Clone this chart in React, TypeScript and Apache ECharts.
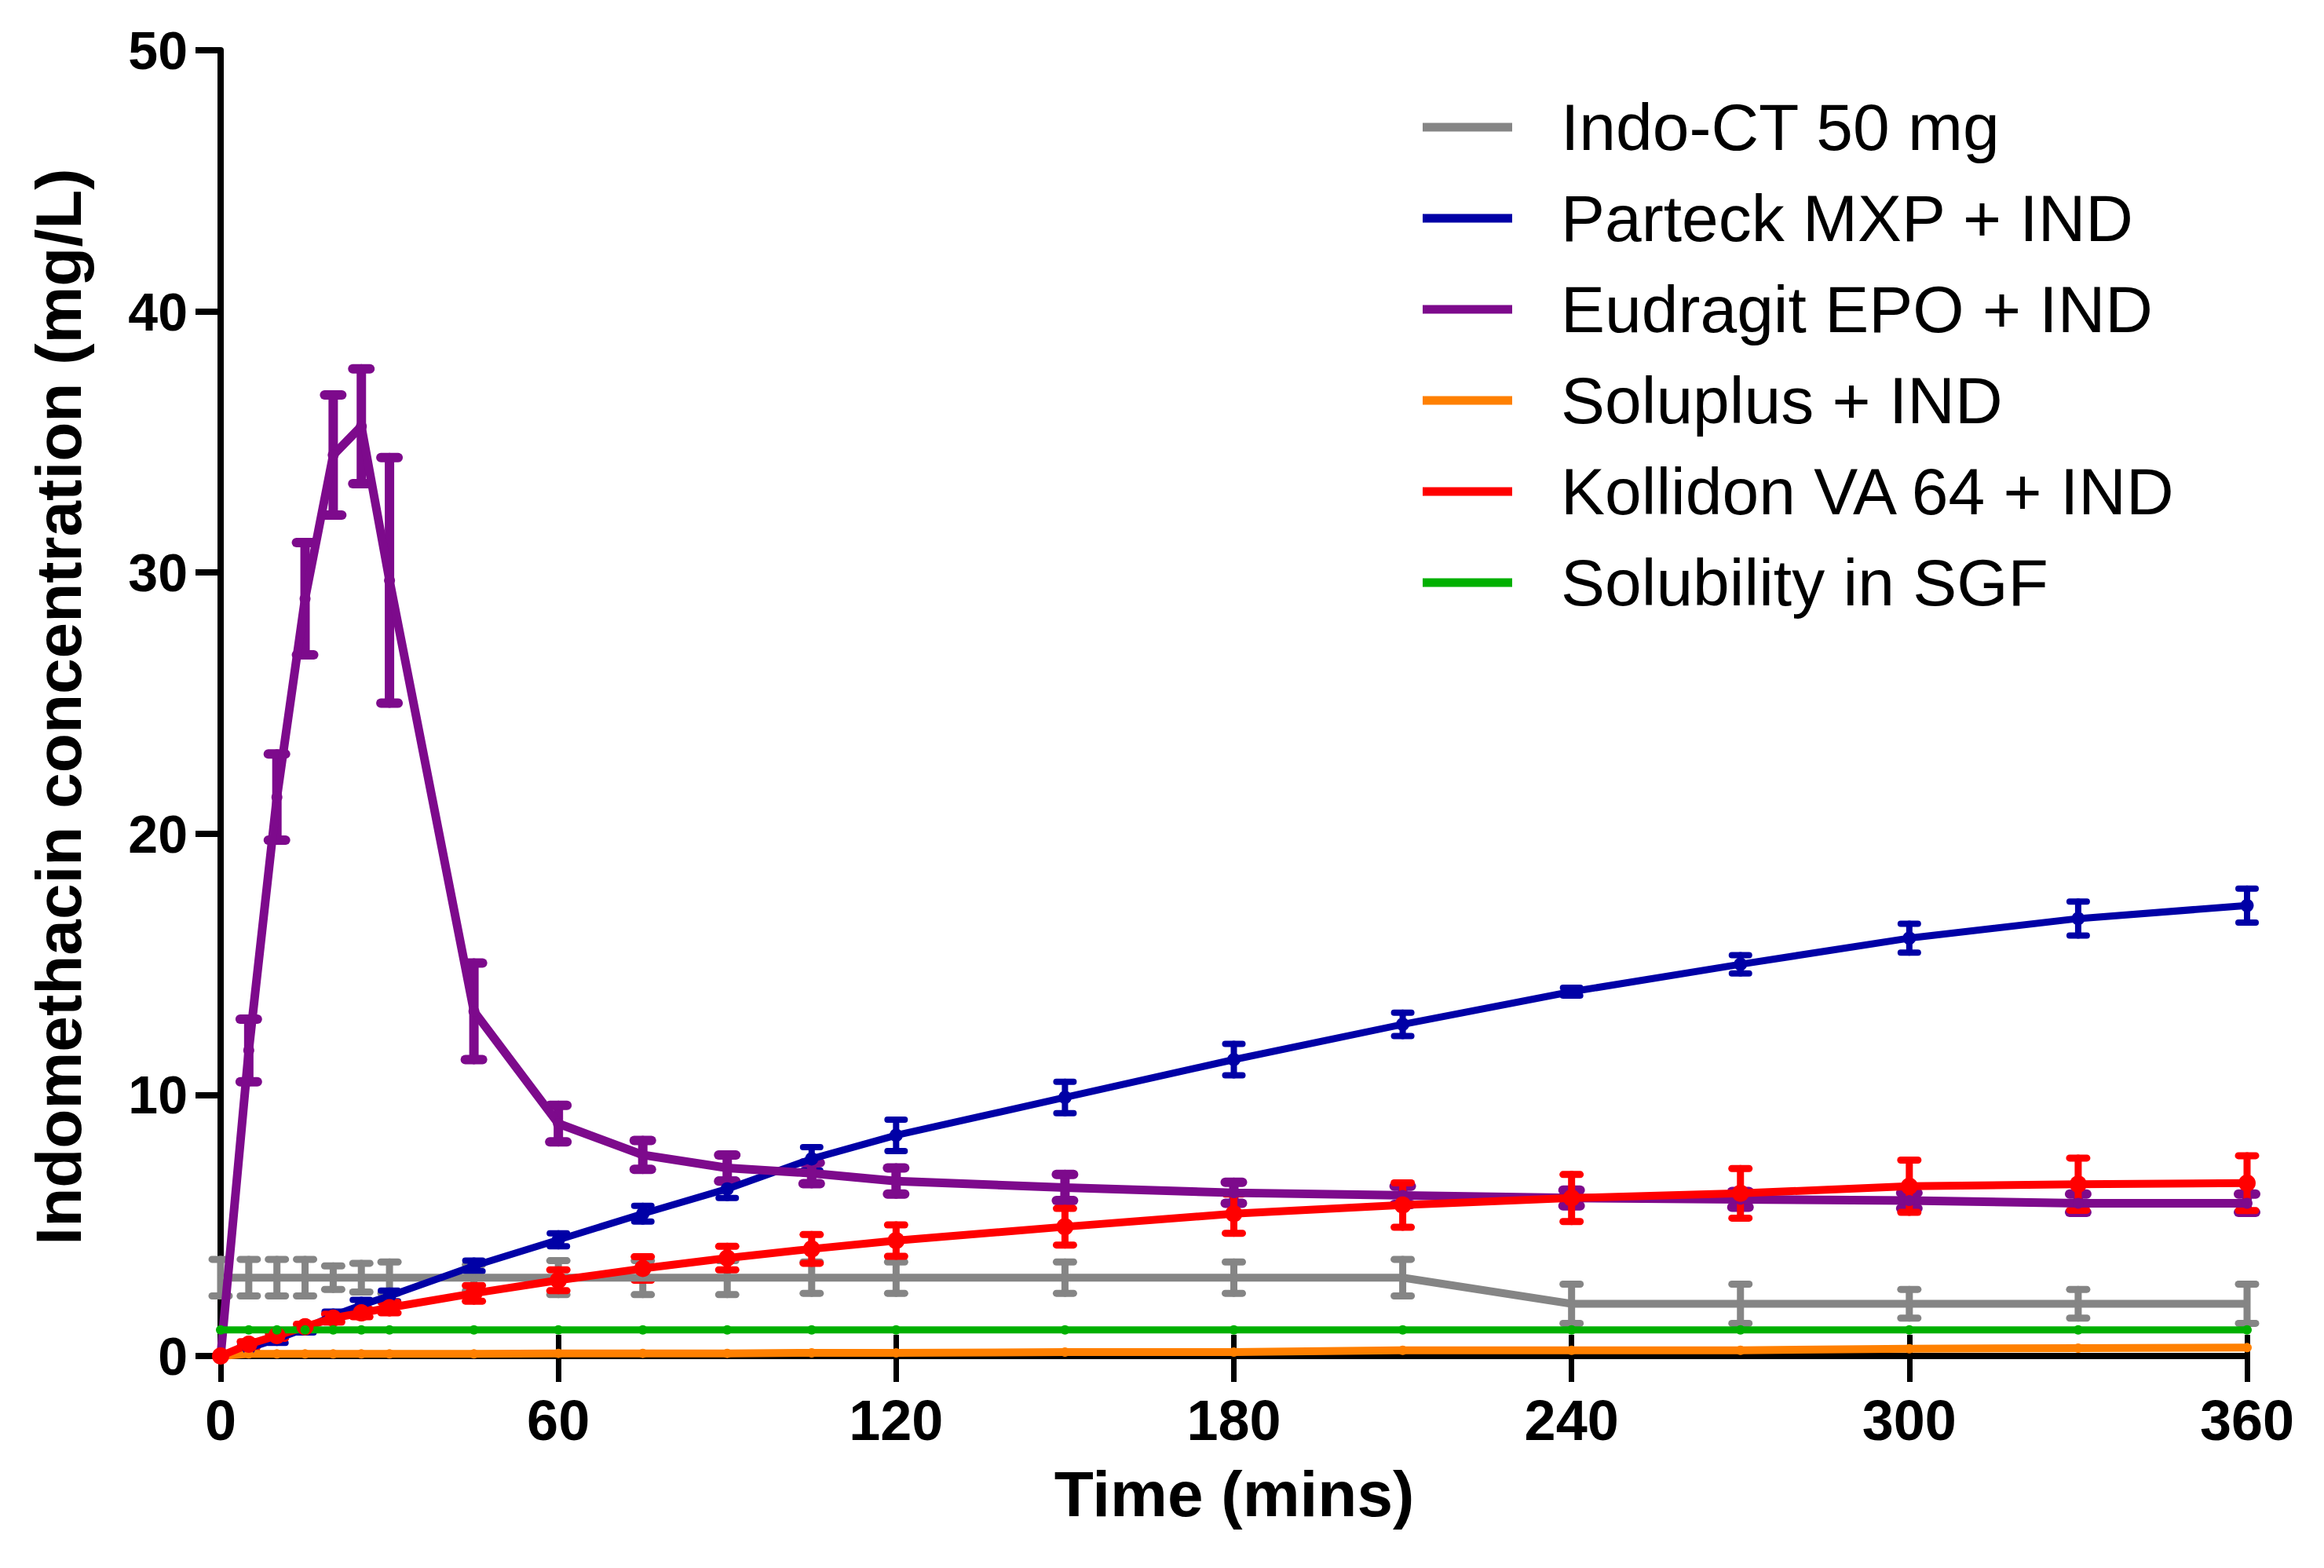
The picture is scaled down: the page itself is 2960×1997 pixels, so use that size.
import React, { useEffect, useRef } from "react";
import * as echarts from "echarts";

const times = [0, 5, 10, 15, 20, 25, 30, 45, 60, 75, 90, 105, 120, 150, 180, 210, 240, 270, 300, 330, 360];

const seriesNames = [
  "Indo-CT 50 mg",
  "Parteck MXP + IND",
  "Eudragit EPO + IND",
  "Soluplus + IND",
  "Kollidon VA 64 + IND",
  "Solubility in SGF",
];
const seriesColors = ["#858585", "#0000A6", "#7D0A8C", "#FF8000", "#FF0000", "#00B000"];

const indoMean = [3.0, 3.0, 3.0, 3.0, 3.0, 3.0, 3.0, 3.0, 3.0, 3.0, 3.0, 3.0, 3.0, 3.0, 3.0, 3.0, 2.0, 2.0, 2.0, 2.0, 2.0];
const indoSd = [0.7, 0.7, 0.7, 0.7, 0.45, 0.55, 0.6, 0.5, 0.65, 0.65, 0.65, 0.6, 0.6, 0.6, 0.6, 0.7, 0.75, 0.75, 0.55, 0.55, 0.75];

const parteckMean = [0, 0.3, 0.65, 1.05, 1.55, 1.95, 2.3, 3.45, 4.45, 5.45, 6.4, 7.55, 8.45, 9.9, 11.35, 12.7, 13.95, 15.0, 16.0, 16.75, 17.25];
const parteckSd = [0, 0.15, 0.15, 0.15, 0.15, 0.2, 0.2, 0.2, 0.25, 0.3, 0.35, 0.45, 0.6, 0.6, 0.6, 0.45, 0.15, 0.35, 0.55, 0.65, 0.65];

const eudragitMean = [0, 11.7, 21.4, 29.0, 34.5, 35.6, 29.7, 13.2, 8.9, 7.7, 7.2, 7.0, 6.7, 6.45, 6.25, 6.15, 6.05, 6.0, 5.95, 5.85, 5.85];
const eudragitSd = [0, 1.2, 1.65, 2.15, 2.3, 2.2, 4.7, 1.85, 0.7, 0.55, 0.5, 0.4, 0.5, 0.5, 0.4, 0.35, 0.3, 0.3, 0.3, 0.35, 0.35];

const soluplusMean = [0, 0.08, 0.08, 0.08, 0.08, 0.08, 0.08, 0.08, 0.1, 0.1, 0.1, 0.12, 0.12, 0.15, 0.15, 0.22, 0.22, 0.22, 0.28, 0.3, 0.32];
const soluplusSd = [0, 0, 0, 0, 0, 0, 0, 0, 0, 0, 0, 0, 0, 0, 0, 0, 0, 0, 0, 0, 0];

const kollidonMean = [0, 0.45, 0.78, 1.12, 1.45, 1.65, 1.85, 2.4, 2.9, 3.35, 3.75, 4.1, 4.42, 4.95, 5.45, 5.78, 6.05, 6.23, 6.5, 6.58, 6.62];
const kollidonSd = [0, 0.1, 0.1, 0.1, 0.15, 0.15, 0.2, 0.3, 0.4, 0.45, 0.45, 0.55, 0.6, 0.7, 0.75, 0.85, 0.9, 0.95, 1.0, 1.0, 1.05];

const sgfMean = [1.0, 1.0, 1.0, 1.0, 1.0, 1.0, 1.0, 1.0, 1.0, 1.0, 1.0, 1.0, 1.0, 1.0, 1.0, 1.0, 1.0, 1.0, 1.0, 1.0, 1.0];
const sgfSd = [0, 0, 0, 0, 0, 0, 0, 0, 0, 0, 0, 0, 0, 0, 0, 0, 0, 0, 0, 0, 0];

const allMeans = [indoMean, parteckMean, eudragitMean, soluplusMean, kollidonMean, sgfMean];
const allSds = [indoSd, parteckSd, eudragitSd, soluplusSd, kollidonSd, sgfSd];
const lineWidths = [10, 9, 11, 10, 10, 9];
const barWidths = [9, 8, 12, 8, 9, 8];
const symbolSizes = [8, 17, 14, 12, 22, 12];

const xMin = 0, xMax = 360, xStep = 60;
const yMin = 0, yMax = 50, yStep = 10;

const FONT = "Liberation Sans, Arial, sans-serif";

function errorSeries(idx: number) {
  const color = seriesColors[idx];
  const w = barWidths[idx];
  const data = times
    .map((t, i) => [t, allMeans[idx][i] - allSds[idx][i], allMeans[idx][i] + allSds[idx][i], allSds[idx][i]])
    .filter((d) => d[3] > 0);
  return {
    type: "custom",
    id: "err" + idx,
    silent: true,
    z: 2,
    xAxisIndex: 0,
    yAxisIndex: 0,
    encode: { x: 0, y: [1, 2] },
    data,
    renderItem: (params: any, api: any) => {
      const x = api.value(0);
      const lo = api.coord([x, api.value(1)]);
      const hi = api.coord([x, api.value(2)]);
      const hw = 11;
      const st = { stroke: color, lineWidth: w, lineCap: "round" };
      return {
        type: "group",
        children: [
          { type: "line", shape: { x1: lo[0], y1: lo[1], x2: hi[0], y2: hi[1] }, style: st },
          { type: "line", shape: { x1: lo[0] - hw, y1: lo[1], x2: lo[0] + hw, y2: lo[1] }, style: st },
          { type: "line", shape: { x1: hi[0] - hw, y1: hi[1], x2: hi[0] + hw, y2: hi[1] }, style: st },
        ],
      };
    },
  };
}

function lineSeries(idx: number) {
  const color = seriesColors[idx];
  return {
    type: "line",
    name: seriesNames[idx],
    z: 2,
    xAxisIndex: 0,
    yAxisIndex: 0,
    color,
    data: times.map((t, i) => [t, allMeans[idx][i]]),
    symbol: "circle",
    symbolSize: symbolSizes[idx],
    showSymbol: true,
    lineStyle: { color, width: lineWidths[idx] },
    itemStyle: { color },
    clip: false,
  };
}

export default function App() {
  const ref = useRef<HTMLDivElement>(null);
  useEffect(() => {
    if (!ref.current) return;
    const chart = echarts.init(ref.current, undefined, { renderer: "svg" });
    const series: any[] = [];
    for (let i = 0; i < seriesNames.length; i++) {
      series.push(errorSeries(i));
      series.push(lineSeries(i));
    }
    const option: any = {
      animation: false,
      backgroundColor: "#ffffff",
      grid: { left: 281, right: 98, top: 64, bottom: 270, containLabel: false },
      legend: {
        data: seriesNames,
        orient: "vertical",
        left: 1807,
        top: 115,
        itemWidth: 114,
        itemHeight: 11,
        itemGap: 32,
        icon: "rect",
        selectedMode: false,
        textStyle: {
          fontFamily: FONT,
          fontSize: 84,
          color: "#000",
          lineHeight: 82,
          padding: [0, 0, 0, 57],
        },
      },
      xAxis: [
        {
          type: "value",
          min: xMin,
          max: xMax,
          interval: xStep,
          position: "bottom",
          axisLine: { show: true, onZero: false, lineStyle: { color: "#000", width: 8 } },
          axisTick: { show: true, length: 33, lineStyle: { color: "#000", width: 7 } },
          axisLabel: { fontFamily: FONT, fontSize: 72, fontWeight: "bold", color: "#000", margin: 46 },
          splitLine: { show: false },
        },
        {
          type: "value",
          min: xMin,
          max: xMax,
          interval: xStep,
          position: "bottom",
          axisLine: { show: false },
          axisTick: { show: true, inside: true, length: 27, lineStyle: { color: "#000", width: 7 } },
          axisLabel: { show: false },
          splitLine: { show: false },
        },
      ],
      yAxis: {
        type: "value",
        min: yMin,
        max: yMax,
        interval: yStep,
        axisLine: { show: true, lineStyle: { color: "#000", width: 8 } },
        axisTick: { show: true, length: 32, lineStyle: { color: "#000", width: 8 } },
        axisLabel: { fontFamily: FONT, fontSize: 68, fontWeight: "bold", color: "#000", margin: 42 },
        splitLine: { show: false },
      },
      graphic: [
        {
          type: "text",
          x: 74,
          y: 900,
          rotation: Math.PI / 2,
          style: {
            text: "Indomethacin concentration (mg/L)",
            fontFamily: FONT,
            fontSize: 82,
            fontWeight: "bold",
            fill: "#000",
            align: "center",
            verticalAlign: "middle",
          },
        },
        {
          type: "text",
          x: 1572,
          y: 1902,
          style: {
            text: "Time (mins)",
            fontFamily: FONT,
            fontSize: 82,
            fontWeight: "bold",
            fill: "#000",
            align: "center",
            verticalAlign: "middle",
          },
        },
      ],
      series,
    };
    chart.setOption(option);
    return () => chart.dispose();
  }, []);
  return (
    <div
      ref={ref}
      style={{ position: "fixed", left: 0, top: 0, width: 2960, height: 1997, background: "#fff" }}
    />
  );
}
